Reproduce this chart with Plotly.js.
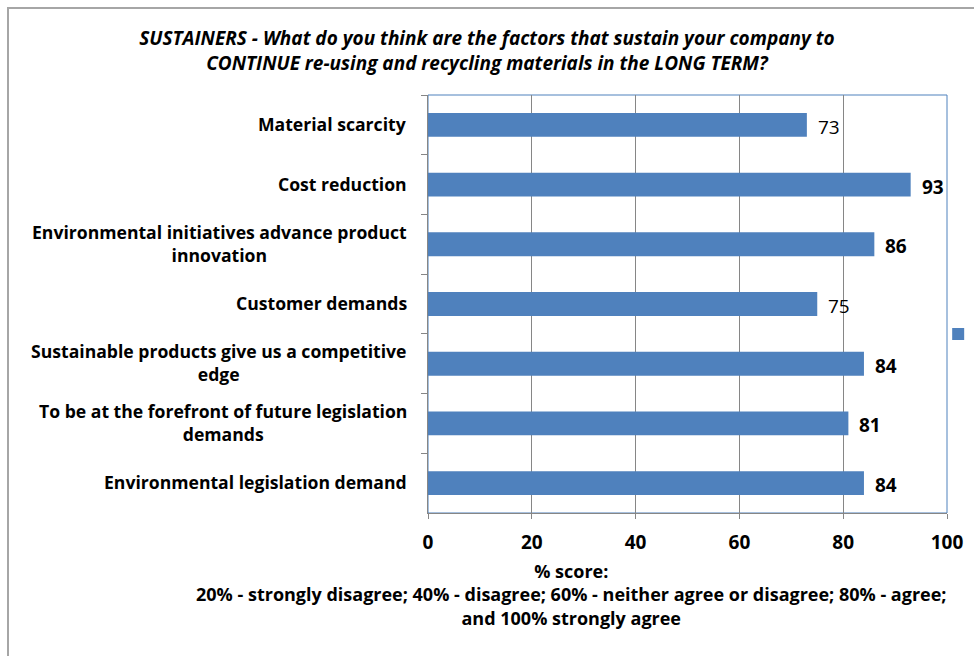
<!DOCTYPE html>
<html>
<head>
<meta charset="utf-8">
<script src="https://cdn.plot.ly/plotly-3.0.1.min.js"></script>
<style>
  html, body { margin: 0; padding: 0; background: #fff; overflow: hidden; }
  #chart { width: 974px; height: 656px; }
  #frame { position: absolute; left: 7px; top: 7px; width: 1200px; height: 900px;
           border-left: 2px solid #A6A6A6; border-top: 2px solid #A6A6A6; pointer-events: none; }
</style>
</head>
<body>
<div id="chart"></div>
<div id="frame"></div>
<script>
const categories = [
  "Material scarcity",
  "Cost reduction",
  "Environmental initiatives advance product<br>innovation",
  "Customer demands",
  "Sustainable products give us a competitive<br>edge",
  "To be at the forefront of future legislation<br>demands",
  "Environmental legislation demand"
];
const scores = [73, 93, 86, 75, 84, 81, 84];
const labelBold = [false, true, true, false, true, true, true];
const xTicks = [0, 20, 40, 60, 80, 100];

const titleText = "<b><i>SUSTAINERS - What do you think are the factors that sustain your company to<br>CONTINUE re-using and recycling materials in the LONG TERM?</i></b>";
const xTitleText = "<b>% score:<br>20% - strongly disagree; 40% - disagree; 60% - neither agree or disagree; 80% - agree;<br>and 100% strongly agree</b>";

const FONT = "Open Sans, Liberation Sans, sans-serif";
const BLUE = "#4F81BD";

const trace = {
  type: "bar",
  orientation: "h",
  y: categories,
  x: scores,
  name: " ",
  marker: { color: BLUE },
  hoverinfo: "none",
  showlegend: true
};

const annotations = [];
categories.forEach((c, i) => {
  annotations.push({
    xref: "paper", yref: "y", x: 0, y: c,
    xanchor: "right", yanchor: "middle", xshift: -19, yshift: 1,
    align: "center", showarrow: false,
    text: "<b>" + c + "</b>",
    font: { family: FONT, size: 17.6, color: "#000" }
  });
  annotations.push({
    xref: "x", yref: "y", x: scores[i], y: c,
    xanchor: "left", yanchor: "middle", xshift: 9, yshift: -2,
    showarrow: false,
    text: labelBold[i] ? "<b>" + scores[i] + "</b>" : String(scores[i]),
    font: { family: FONT, size: 19, color: "#000" }
  });
});
annotations.push({
  xref: "paper", yref: "paper", x: 0.277, y: 0, yshift: -44,
  xanchor: "center", yanchor: "top", align: "center", showarrow: false,
  text: xTitleText,
  font: { family: FONT, size: 18, color: "#000" }
});

const layout = {
  width: 974, height: 656,
  margin: { l: 428, r: 27, t: 95, b: 143, autoexpand: false },
  paper_bgcolor: "#fff", plot_bgcolor: "#fff",
  title: {
    text: titleText, x: 0.5, xref: "container", xanchor: "center",
    y: 1, yref: "container", yanchor: "top", pad: { t: 45 },
    font: { family: FONT, size: 19, color: "#000" }
  },
  bargap: 0.6,
  xaxis: {
    range: [0, 100], tickvals: xTicks, ticktext: xTicks.map(String),
    showgrid: true, gridcolor: "#868686", gridwidth: 1,
    showline: true, linecolor: "#868686", linewidth: 1,
    ticks: "outside", ticklen: 5, tickcolor: "#868686",
    ticklabelstandoff: 7,
    zeroline: false, fixedrange: true,
    tickfont: { family: FONT, size: 19, color: "#000", weight: "bold" }
  },
  yaxis: {
    type: "category", autorange: "reversed",
    showticklabels: false, showgrid: false,
    showline: true, linecolor: "#868686", linewidth: 1,
    ticks: "outside", ticklen: 6, tickcolor: "#868686", tickson: "boundaries",
    zeroline: false, fixedrange: true
  },
  showlegend: true,
  legend: { x: 0.983, xanchor: "left", y: 0.428, yanchor: "middle",
            font: { family: FONT, size: 12 }, itemwidth: 30, bgcolor: "rgba(0,0,0,0)" },
  shapes: [{
    type: "rect", xref: "paper", yref: "paper", x0: 0, x1: 1, y0: 0, y1: 1,
    line: { color: BLUE, width: 1 }, layer: "below"
  }],
  annotations: annotations
};

Plotly.newPlot("chart", [trace], layout, { displayModeBar: false, staticPlot: true });
</script>
</body>
</html>
